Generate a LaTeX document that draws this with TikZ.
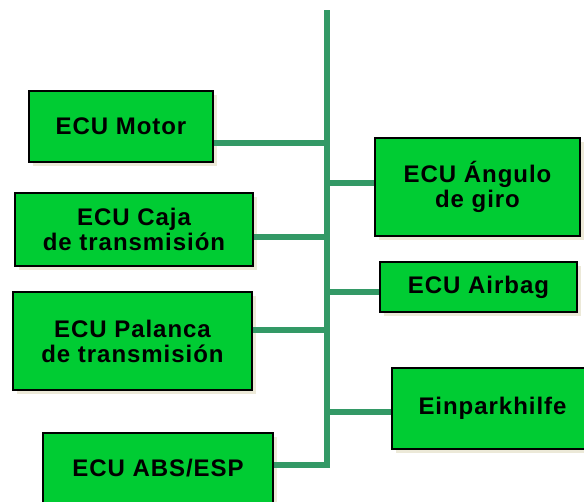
\documentclass[tikz,border=0pt]{standalone}
\usepackage{fontspec}
\setmainfont{Liberation Sans}[LetterSpace=4]
\usetikzlibrary{shadows}
\definecolor{ecugreen}{RGB}{0,204,51}
\definecolor{busgreen}{RGB}{51,153,102}
\definecolor{shadowbeige}{RGB}{236,233,216}
\tikzset{
  ecu/.style={draw=black,line width=2.5pt,fill=ecugreen,align=center,
    font=\fontsize{24}{25}\selectfont\bfseries,inner sep=0pt,
    drop shadow={shadow xshift=4pt,shadow yshift=-4pt,fill=shadowbeige,opacity=1}},
  bus/.style={busgreen,line width=6.5pt}
}
\begin{document}
\begin{tikzpicture}[x=1pt,y=-1pt]
    \useasboundingbox (0,0) rectangle (584,501);
    % steuergeraete am bus
    \node[ecu,minimum width=184pt,minimum height=71pt] (motor) at (121,126.5) {ECU Motor};
    \node[ecu,minimum width=238pt,minimum height=73pt] (caja) at (134,229.5) {ECU Caja\\de transmisión};
    \node[ecu,minimum width=239pt,minimum height=98pt] (palanca) at (132.5,341) {ECU Palanca\\de transmisión};
    \node[ecu,minimum width=230pt,minimum height=70pt] (abs) at (158,468) {ECU ABS/ESP};
    \node[ecu,minimum width=205pt,minimum height=98pt] (angulo) at (477.5,187) {ECU Ángulo\\de giro};
    \node[ecu,minimum width=197pt,minimum height=50pt] (airbag) at (478.5,287) {ECU Airbag};
    \node[ecu,minimum width=201pt,minimum height=81pt] (einpark) at (492.5,408.5) {Einparkhilfe};
    % abzweigungen am bus
    \coordinate (top) at (327,10);
    \coordinate (b1) at (327,143);
    \coordinate (b2) at (327,183);
    \coordinate (b3) at (327,237);
    \coordinate (b4) at (327,292);
    \coordinate (b5) at (327,330);
    \coordinate (b6) at (327,412);
    \coordinate (b7) at (327,465);
    \draw[bus] (top) -- (b7) -- (b7 -| abs.east);
    \draw[bus] (b1) -- (b1 -| motor.east);
    \draw[bus] (b2) -- (b2 -| angulo.west);
    \draw[bus] (b3) -- (b3 -| caja.east);
    \draw[bus] (b4) -- (b4 -| airbag.west);
    \draw[bus] (b5) -- (b5 -| palanca.east);
    \draw[bus] (b6) -- (b6 -| einpark.west);
  \end{tikzpicture}
\end{document}
